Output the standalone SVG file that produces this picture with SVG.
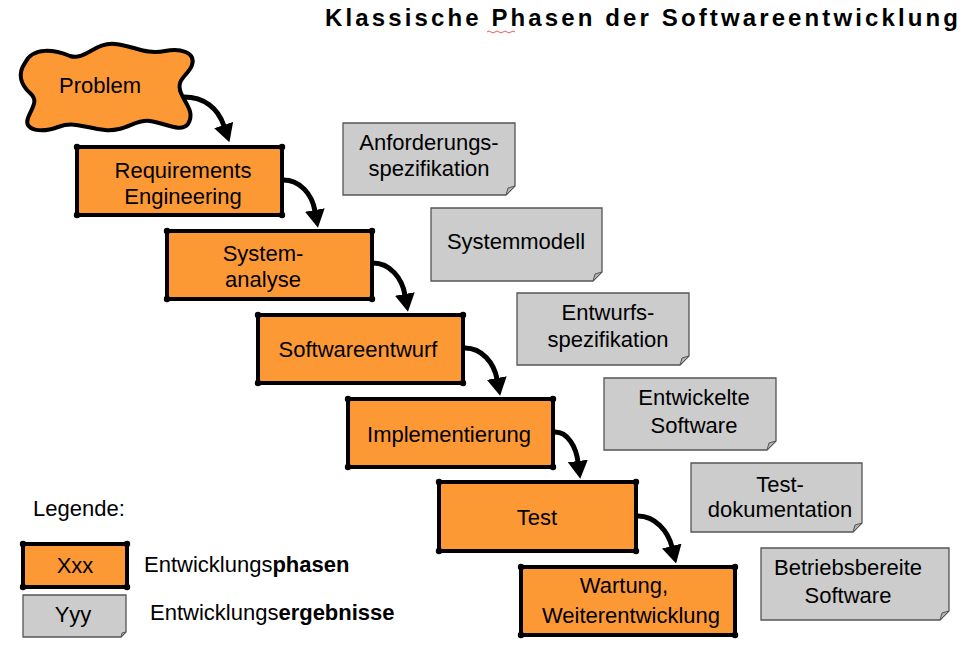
<svg xmlns="http://www.w3.org/2000/svg" width="973" height="655" viewBox="0 0 973 655">
<defs>
<style>
text{font-family:"Liberation Sans",Arial,sans-serif;font-size:22px;fill:#000;}
.c{text-anchor:middle;}
.t{font-size:24px;font-weight:bold;}
.ph{fill:#fd9935;stroke:#000;stroke-width:4;}
.dot{fill:#000;}
.note{fill:#cccccc;stroke:#555;stroke-width:1.3;}
.fold{fill:#b3b3b3;stroke:#555;stroke-width:1;}
.arr{fill:none;stroke:#000;stroke-width:5;}
</style>
<marker id="ah" viewBox="0 0 18 20" refX="1" refY="10" markerWidth="18" markerHeight="20" markerUnits="userSpaceOnUse" orient="auto">
<path d="M0,0 L18,10 L0,20 Z" fill="#000"/>
</marker>
</defs>
<rect width="973" height="655" fill="#fff"/>

<g id="title">
<text class="t" x="325" y="26" textLength="633" lengthAdjust="spacing">Klassische Phasen der Softwareentwicklung</text>
<path d="M487,32 q2,-2 4,0 t4,0 t4,0 t4,0 t4,0 t4,0 t4,0" fill="none" stroke="#e03030" stroke-width="0.8"/>
</g>

<g id="problem">
<path class="ph" d="M25,63 C33,46 55,50 70,56 C85,61 95,42 115,44 C135,46 145,55 165,51 C180,48 196,52 192,65 C189,75 175,79 181,93 C186,105 195,112 188,124 C181,133 165,123 150,121 C135,119 125,132 105,130 C85,128 75,121 58,127 C42,133 23,131 28,118 C32,107 39,101 30,93 C21,85 17,74 25,63 Z"/>
<text class="c" x="100" y="93">Problem</text>
</g>

<g id="re">
<rect class="ph" x="77" y="147" width="205" height="68"/>
<circle class="dot" cx="77" cy="147" r="3.2"/><circle class="dot" cx="282" cy="147" r="3.2"/><circle class="dot" cx="77" cy="215" r="3.2"/><circle class="dot" cx="282" cy="215" r="3.2"/>
<text class="c" x="183" y="178">Requirements</text>
<text class="c" x="183" y="204">Engineering</text>
</g>

<g id="sa">
<rect class="ph" x="167" y="231" width="205" height="68"/>
<circle class="dot" cx="167" cy="231" r="3.2"/><circle class="dot" cx="372" cy="231" r="3.2"/><circle class="dot" cx="167" cy="299" r="3.2"/><circle class="dot" cx="372" cy="299" r="3.2"/>
<text class="c" x="263" y="261">System-</text>
<text class="c" x="263" y="287">analyse</text>
</g>

<g id="se">
<rect class="ph" x="258" y="315" width="205" height="68"/>
<circle class="dot" cx="258" cy="315" r="3.2"/><circle class="dot" cx="463" cy="315" r="3.2"/><circle class="dot" cx="258" cy="383" r="3.2"/><circle class="dot" cx="463" cy="383" r="3.2"/>
<text class="c" x="358" y="357">Softwareentwurf</text>
</g>

<g id="impl">
<rect class="ph" x="348" y="399" width="205" height="68"/>
<circle class="dot" cx="348" cy="399" r="3.2"/><circle class="dot" cx="553" cy="399" r="3.2"/><circle class="dot" cx="348" cy="467" r="3.2"/><circle class="dot" cx="553" cy="467" r="3.2"/>
<text class="c" x="449" y="442">Implementierung</text>
</g>

<g id="test">
<rect class="ph" x="439" y="482" width="197" height="69"/>
<circle class="dot" cx="439" cy="482" r="3.2"/><circle class="dot" cx="636" cy="482" r="3.2"/><circle class="dot" cx="439" cy="551" r="3.2"/><circle class="dot" cx="636" cy="551" r="3.2"/>
<text class="c" x="537" y="525">Test</text>
</g>

<g id="wartung">
<rect class="ph" x="521" y="567" width="214" height="68"/>
<circle class="dot" cx="521" cy="567" r="3.2"/><circle class="dot" cx="735" cy="567" r="3.2"/><circle class="dot" cx="521" cy="635" r="3.2"/><circle class="dot" cx="735" cy="635" r="3.2"/>
<text class="c" x="624" y="593">Wartung,</text>
<text class="c" x="631" y="623">Weiterentwicklung</text>
</g>

<g id="n1">
<path class="note" d="M343,123 H515 V186 L506,195 H343 Z"/>
<path class="fold" d="M515,186 L506,195 L508,188 Z"/>
<text class="c" x="429" y="150">Anforderungs-</text>
<text class="c" x="429" y="176">spezifikation</text>
</g>

<g id="n2">
<path class="note" d="M431,208 H602 V272 L593,281 H431 Z"/>
<path class="fold" d="M602,272 L593,281 L595,274 Z"/>
<text class="c" x="516" y="249">Systemmodell</text>
</g>

<g id="n3">
<path class="note" d="M517,293 H689 V356 L680,365 H517 Z"/>
<path class="fold" d="M689,356 L680,365 L682,358 Z"/>
<text class="c" x="608" y="320">Entwurfs-</text>
<text class="c" x="608" y="347">spezifikation</text>
</g>

<g id="n4">
<path class="note" d="M604,378 H776 V441 L767,450 H604 Z"/>
<path class="fold" d="M776,441 L767,450 L769,443 Z"/>
<text class="c" x="694" y="405">Entwickelte</text>
<text class="c" x="694" y="433">Software</text>
</g>

<g id="n5">
<path class="note" d="M691,463 H862 V523 L853,532 H691 Z"/>
<path class="fold" d="M862,523 L853,532 L855,525 Z"/>
<text class="c" x="780" y="492">Test-</text>
<text class="c" x="780" y="517">dokumentation</text>
</g>

<g id="n6">
<path class="note" d="M761,548 H949 V611 L940,620 H761 Z"/>
<path class="fold" d="M949,611 L940,620 L942,613 Z"/>
<text class="c" x="848" y="575">Betriebsbereite</text>
<text class="c" x="848" y="603">Software</text>
</g>

<g id="connectors">
<path class="arr" marker-end="url(#ah)" d="M184,97 C204,97 218,108 224,126"/>
<path class="arr" marker-end="url(#ah)" d="M283,180 C300,180 312,194 315,211"/>
<path class="arr" marker-end="url(#ah)" d="M373,263 C390,263 402,278 405,295"/>
<path class="arr" marker-end="url(#ah)" d="M465,348 C482,348 494,363 497,379"/>
<path class="arr" marker-end="url(#ah)" d="M555,432 C568,432 576,447 578,462"/>
<path class="arr" marker-end="url(#ah)" d="M638,516 C655,516 668,531 672,547"/>
</g>

<g id="legend">
<text x="33" y="516">Legende:</text>
<rect class="ph" x="23" y="544" width="104" height="43"/>
<circle class="dot" cx="23" cy="544" r="3.2"/><circle class="dot" cx="127" cy="544" r="3.2"/><circle class="dot" cx="23" cy="587" r="3.2"/><circle class="dot" cx="127" cy="587" r="3.2"/>
<text class="c" x="75" y="573">Xxx</text>
<path class="note" d="M23,595 H126 V632 L121,637 H23 Z"/>
<path class="fold" d="M126,632 L121,637 L122,633 Z"/>
<text class="c" x="73" y="622">Yyy</text>
<text x="144" y="572">Entwicklungs<tspan font-weight="bold">phasen</tspan></text>
<text x="150" y="620">Entwicklungs<tspan font-weight="bold">ergebnisse</tspan></text>
</g>
</svg>
